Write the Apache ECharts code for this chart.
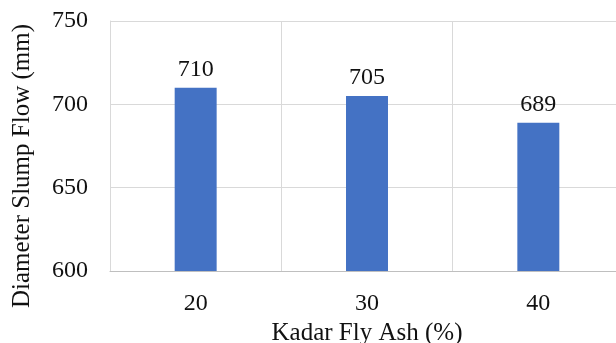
<!DOCTYPE html>
<html>
<head>
<meta charset="utf-8">
<script src="https://cdn.jsdelivr.net/npm/echarts@6/dist/echarts.min.js"></script>
<style>
  html, body { margin: 0; padding: 0; background: #fff; overflow: hidden; }
  /* plot runs a little past the right edge of the picture, as in the source */
  #chart { width: 624px; height: 343px; }
</style>
</head>
<body>
<div id="chart"></div>
<script>
const categories = ["20", "30", "40"];
const slumpFlow = [710, 705, 689];
const yTicks = [600, 650, 700, 750];

const font = "Liberation Serif";
const chart = echarts.init(document.getElementById("chart"));

chart.setOption({
    animation: false,
    grid: { left: 110, right: 0, top: 21, bottom: 72, outerBoundsMode: "none" },
    xAxis: {
        type: "category",
        data: categories,
        name: "Kadar Fly Ash (%)",
        nameLocation: "middle",
        nameGap: 47,
        nameTextStyle: { fontFamily: font, fontSize: 25, color: "#111" },
        axisLine: { lineStyle: { color: "#bfbfbf", width: 1 } },
        axisTick: { show: false },
        axisLabel: { fontFamily: font, fontSize: 24, color: "#111", margin: 21 },
        splitLine: { show: true, lineStyle: { color: "#d9d9d9" } }
    },
    yAxis: {
        type: "value",
        min: yTicks[0],
        max: yTicks[yTicks.length - 1],
        interval: 50,
        name: "Diameter Slump Flow (mm)",
        nameLocation: "middle",
        nameGap: 75,
        nameTextStyle: { fontFamily: font, fontSize: 25, color: "#111", padding: [0, 40, 0, 0] },
        axisLine: { show: true, lineStyle: { color: "#d9d9d9" } },
        axisTick: { show: false },
        axisLabel: { fontFamily: font, fontSize: 24, color: "#111", margin: 22 },
        splitLine: { show: true, lineStyle: { color: "#d9d9d9" } }
    },
    series: [{
        type: "bar",
        data: slumpFlow,
        barWidth: "24.5%",
        itemStyle: { color: "#4472C4" },
        label: {
            show: true,
            position: "top",
            distance: 6,
            fontFamily: font,
            fontSize: 24,
            color: "#111"
        }
    }]
});
</script>
</body>
</html>
